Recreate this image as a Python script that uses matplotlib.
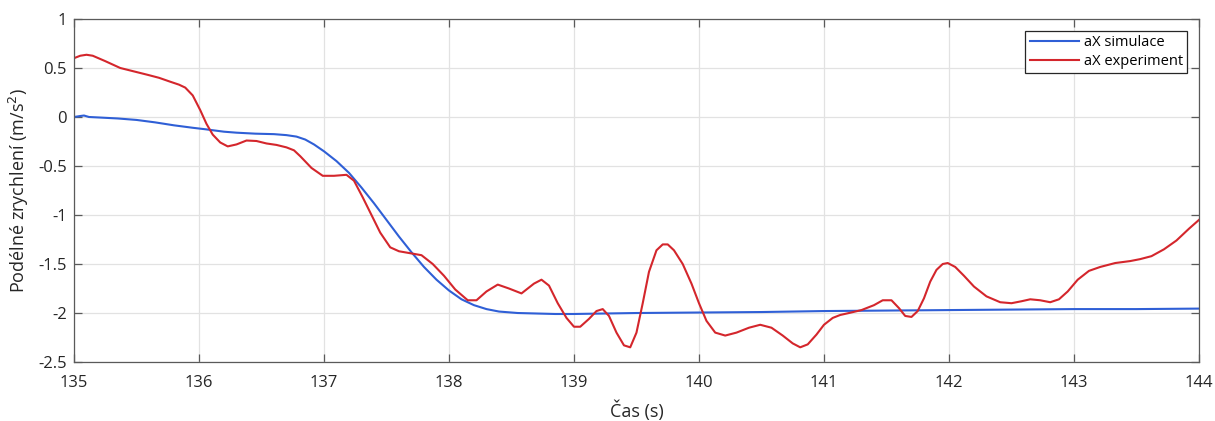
import numpy as np
import matplotlib as mpl
mpl.use('Agg')
import matplotlib.pyplot as plt

plt.rcParams['font.family'] = ['Open Sans', 'DejaVu Sans']

# cas (s) a zrychleni (m/s^2)
t_sim = [135.0, 135.05, 135.08, 135.12, 135.2, 135.35, 135.5, 135.65, 135.8, 135.95,
         136.05, 136.2, 136.3, 136.45, 136.6, 136.7, 136.78, 136.85, 136.92, 137.0,
         137.1, 137.2, 137.3, 137.4, 137.5, 137.6, 137.7, 137.8, 137.9, 138.0,
         138.1, 138.2, 138.3, 138.4, 138.55, 138.7, 138.85, 139.0, 139.5, 140.0,
         140.5, 141.0, 141.5, 142.0, 142.5, 143.0, 143.5, 144.0]
a_sim = [0.0, 0.01, 0.015, 0.0, -0.005, -0.015, -0.03, -0.055, -0.085, -0.11,
         -0.125, -0.15, -0.16, -0.17, -0.175, -0.185, -0.2, -0.23, -0.28, -0.35,
         -0.45, -0.57, -0.72, -0.88, -1.05, -1.22, -1.38, -1.53, -1.66, -1.77,
         -1.86, -1.92, -1.96, -1.985, -2.0, -2.005, -2.01, -2.01, -2.0, -1.995,
         -1.99, -1.98, -1.975, -1.97, -1.965, -1.96, -1.96, -1.955]

t_exp = [135.0, 135.05, 135.1, 135.15, 135.25, 135.37, 135.48, 135.59, 135.68, 135.77,
         135.84, 135.89, 135.95, 136.01, 136.06, 136.11, 136.17, 136.23, 136.3, 136.38,
         136.46, 136.54, 136.62, 136.7, 136.76, 136.81, 136.9, 136.99, 137.08, 137.18,
         137.24, 137.31, 137.38, 137.45, 137.53, 137.6, 137.69, 137.78, 137.87, 137.96,
         138.05, 138.15, 138.22, 138.3, 138.39, 138.48, 138.58, 138.68, 138.74, 138.8,
         138.87, 138.94, 139.0, 139.05, 139.12, 139.18, 139.23, 139.28, 139.34, 139.4,
         139.45, 139.5, 139.55, 139.6, 139.66, 139.71, 139.75, 139.8, 139.87, 139.94,
         140.0, 140.06, 140.13, 140.21, 140.3, 140.4, 140.49, 140.58, 140.67, 140.75,
         140.81, 140.87, 140.94, 141.0, 141.07, 141.13, 141.2, 141.3, 141.4, 141.47,
         141.54, 141.6, 141.65, 141.7, 141.75, 141.8, 141.85, 141.9, 141.95, 141.99,
         142.05, 142.12, 142.2, 142.3, 142.41, 142.5, 142.58, 142.65, 142.73, 142.81,
         142.88, 142.95, 143.03, 143.12, 143.21, 143.33, 143.45, 143.53, 143.62, 143.72,
         143.82, 143.92, 144.0]
a_exp = [0.6, 0.625, 0.635, 0.625, 0.57, 0.5, 0.465, 0.43, 0.4, 0.36,
         0.33, 0.3, 0.22, 0.07, -0.07, -0.18, -0.26, -0.3, -0.28, -0.24,
         -0.245, -0.27, -0.285, -0.31, -0.34, -0.4, -0.52, -0.6, -0.6, -0.59,
         -0.65, -0.82, -1.0, -1.18, -1.33, -1.37, -1.39, -1.41, -1.5, -1.62,
         -1.76, -1.87, -1.87, -1.78, -1.71, -1.75, -1.8, -1.7, -1.66, -1.72,
         -1.9, -2.05, -2.14, -2.14, -2.06, -1.98, -1.96, -2.03, -2.2, -2.33,
         -2.35, -2.2, -1.9, -1.58, -1.36, -1.3, -1.3, -1.36, -1.5, -1.7,
         -1.9, -2.08, -2.2, -2.23, -2.2, -2.15, -2.12, -2.15, -2.23, -2.31,
         -2.35, -2.32, -2.22, -2.12, -2.05, -2.02, -2.0, -1.97, -1.92, -1.87,
         -1.87, -1.95, -2.03, -2.04, -1.98, -1.85, -1.68, -1.56, -1.5, -1.49,
         -1.53, -1.62, -1.73, -1.83, -1.89, -1.9, -1.88, -1.86, -1.87, -1.89,
         -1.86, -1.78, -1.66, -1.57, -1.53, -1.49, -1.47, -1.45, -1.42, -1.35,
         -1.26, -1.14, -1.05]

x_ticks = [135, 136, 137, 138, 139, 140, 141, 142, 143, 144]
y_ticks = [-2.5, -2, -1.5, -1, -0.5, 0, 0.5, 1]

fig = plt.figure(figsize=(12.15, 4.21), dpi=100)
ax = fig.add_axes([0.0609, 0.1401, 0.9259, 0.8148])

ax.plot(t_sim, a_sim, color='#2f5fd6', lw=1.5, label='aX simulace')
ax.plot(t_exp, a_exp, color='#d4262c', lw=1.5, label='aX experiment')

ax.set_xlim(135, 144)
ax.set_ylim(-2.5, 1)
ax.set_xticks(x_ticks)
ax.set_yticks(y_ticks)
ax.set_yticklabels(['%g' % v for v in y_ticks])
ax.grid(True, color='#e2e2e2', lw=0.9)
ax.set_axisbelow(True)
ax.tick_params(direction='in', length=6, width=0.9, top=True, right=True,
               colors='#5a5a5a', labelsize=12, labelcolor='#262626')
ax.tick_params(axis='x', pad=9)
ax.tick_params(axis='y', pad=5)
for s in ax.spines.values():
    s.set_color('#5a5a5a')
    s.set_linewidth(0.9)

ax.set_xlabel('Čas (s)', fontsize=13, color='#262626', labelpad=7)
ax.set_ylabel('Podélné zrychlení (m/s$^2$)', fontsize=13, color='#262626', labelpad=5)

leg = ax.legend(loc='upper right', fontsize=10.5, fancybox=False, framealpha=1,
                edgecolor='#262626', borderaxespad=0.8, handlelength=3.4,
                borderpad=0.3, labelspacing=0.25, handletextpad=0.3)
leg.get_frame().set_linewidth(0.9)

fig.savefig('out.png', dpi=100)
